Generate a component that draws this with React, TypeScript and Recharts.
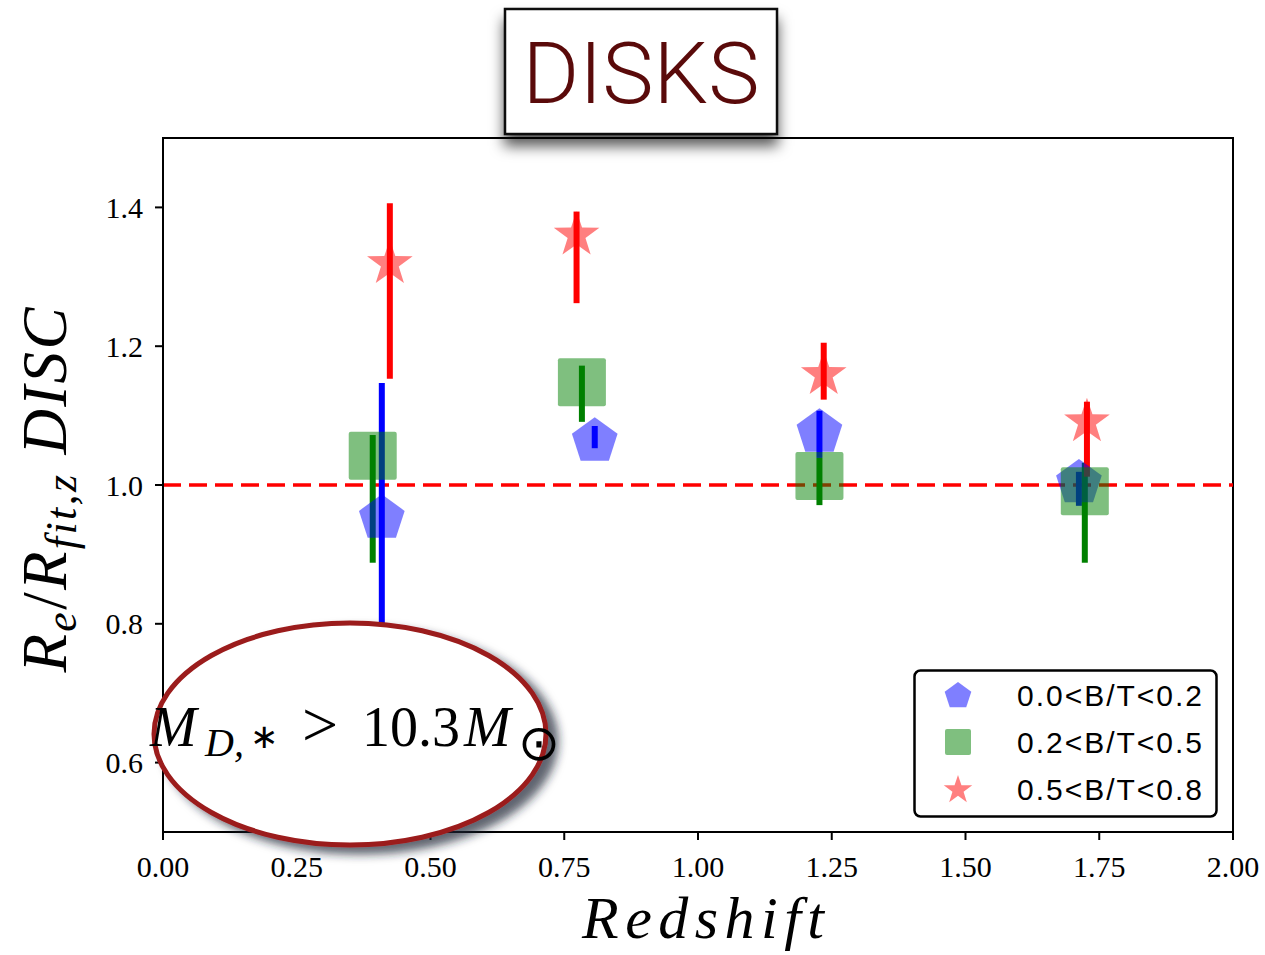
import React from 'react';
import {
  ScatterChart,
  Scatter,
  XAxis,
  YAxis,
  ErrorBar,
  ReferenceLine,
  ReferenceArea,
  Legend,
} from 'recharts';

// redshift bins and R_e / R_fit ratios
const blueZ = [0.409, 0.807, 1.227, 1.712];
const blueR = [0.952, 1.063, 1.076, 1.003];
const blueLo = [0.801, 1.053, 1.039, 0.97];
const blueHi = [1.147, 1.085, 1.107, 1.019];

const greenZ = [0.392, 0.783, 1.227, 1.723];
const greenR = [1.042, 1.148, 1.013, 0.991];
const greenLo = [0.888, 1.091, 0.971, 0.888];
const greenHi = [1.072, 1.172, 1.039, 1.032];

const redZ = [0.424, 0.773, 1.235, 1.727];
const redR = [1.319, 1.36, 1.159, 1.091];
const redLo = [1.153, 1.262, 1.123, 1.012];
const redHi = [1.406, 1.394, 1.205, 1.12];

const xTicks = [0, 0.25, 0.5, 0.75, 1.0, 1.25, 1.5, 1.75, 2.0];
const yTicks = [0.6, 0.8, 1.0, 1.2, 1.4];

const legendLabels = ['0.0<B/T<0.2', '0.2<B/T<0.5', '0.5<B/T<0.8'];

const build = (z: number[], r: number[], lo: number[], hi: number[]) =>
  z.map((x, i) => ({ x, y: r[i], err: [r[i] - lo[i], hi[i] - r[i]] }));

const blueData = build(blueZ, blueR, blueLo, blueHi);
const greenData = build(greenZ, greenR, greenLo, greenHi);
const redData = build(redZ, redR, redLo, redHi);

const serif = '"Liberation Serif", "Times New Roman", serif';
const sans = '"Liberation Sans", Arial, sans-serif';

const pentagonPoints = (cx: number, cy: number, r: number) =>
  [0, 1, 2, 3, 4]
    .map(k => {
      const a = ((-90 + k * 72) * Math.PI) / 180;
      return `${cx + r * Math.cos(a)},${cy + r * Math.sin(a)}`;
    })
    .join(' ');

const starPoints = (cx: number, cy: number, r: number) =>
  Array.from({ length: 10 }, (_, k) => {
    const a = ((-90 + k * 36) * Math.PI) / 180;
    const rr = k % 2 === 0 ? r : r * 0.39;
    return `${cx + rr * Math.cos(a)},${cy + rr * Math.sin(a)}`;
  }).join(' ');

const Pentagon = ({ cx, cy, r = 24 }: any) => (
  <polygon points={pentagonPoints(cx, cy, r)} fill="#0000ff" fillOpacity={0.5} />
);

const Square = ({ cx, cy, s = 48 }: any) => (
  <rect x={cx - s / 2} y={cy - s / 2} width={s} height={s} rx={2} fill="#008000" fillOpacity={0.5} />
);

const Star = ({ cx, cy, r = 24 }: any) => (
  <polygon points={starPoints(cx, cy, r)} fill="#ff0000" fillOpacity={0.5} strokeLinejoin="round" />
);

const Nothing = () => <g />;

const renderLegend = () => {
  const markers = [
    <Pentagon cx={45} cy={27} r={14} />,
    <Square cx={45} cy={73} s={26} />,
    <Star cx={45} cy={121} r={15} />,
  ];
  return (
    <svg width={305} height={149} style={{ display: 'block' }}>
      <rect x={1.5} y={1.5} width={302} height={146} rx={6} fill="#fff" stroke="#000" strokeWidth={2.5} />
      {legendLabels.map((lab, i) => (
        <g key={lab}>
          {markers[i]}
          <text
            x={104}
            y={37 + i * 47}
            fontFamily={sans}
            fontSize={30}
            fill="#000"
            textLength={185}
            lengthAdjust="spacing"
          >
            {lab}
          </text>
        </g>
      ))}
    </svg>
  );
};

const App: React.FC = () => {
  return (
    <div style={{ position: 'absolute', left: 0, top: 0, width: 1265, height: 955, background: '#fff' }}>
      <ScatterChart width={1265} height={955} margin={{ top: 138, right: 32, bottom: 63, left: 63 }}>
        <XAxis
          type="number"
          dataKey="x"
          domain={[0, 2]}
          ticks={xTicks}
          tickFormatter={(v: number) => v.toFixed(2)}
          allowDataOverflow
          height={60}
          tickSize={8}
          tickMargin={16}
          axisLine={{ stroke: '#000', strokeWidth: 2 }}
          tickLine={{ stroke: '#000', strokeWidth: 2 }}
          tick={{ fill: '#000', fontSize: 30, fontFamily: serif }}
        />
        <YAxis
          type="number"
          dataKey="y"
          domain={[0.5, 1.5]}
          ticks={yTicks}
          tickFormatter={(v: number) => v.toFixed(1)}
          allowDataOverflow
          width={100}
          tickSize={8}
          tickMargin={12}
          axisLine={{ stroke: '#000', strokeWidth: 2 }}
          tickLine={{ stroke: '#000', strokeWidth: 2 }}
          tick={{ fill: '#000', fontSize: 30, fontFamily: serif }}
        />
        <ReferenceArea x1={0} x2={2} y1={0.5} y2={1.5} fill="none" fillOpacity={0} stroke="#000" strokeWidth={2} />

        <Scatter name={legendLabels[0]} data={blueData} shape={Pentagon} isAnimationActive={false} />
        <Scatter name={legendLabels[1]} data={greenData} shape={Square} isAnimationActive={false} />
        <Scatter name={legendLabels[2]} data={redData} shape={Star} isAnimationActive={false} />

        <ReferenceLine y={1} stroke="#ff0000" strokeWidth={3.5} strokeDasharray="18 8" />

        <Scatter data={blueData} shape={Nothing} isAnimationActive={false} legendType="none">
          <ErrorBar dataKey="err" direction="y" width={0} stroke="#0000ff" strokeWidth={6} isAnimationActive={false} />
        </Scatter>
        <Scatter data={greenData} shape={Nothing} isAnimationActive={false} legendType="none">
          <ErrorBar dataKey="err" direction="y" width={0} stroke="#008000" strokeWidth={6} isAnimationActive={false} />
        </Scatter>
        <Scatter data={redData} shape={Nothing} isAnimationActive={false} legendType="none">
          <ErrorBar dataKey="err" direction="y" width={0} stroke="#ff0000" strokeWidth={6} isAnimationActive={false} />
        </Scatter>

        <Legend
          layout="vertical"
          align="center"
          verticalAlign="middle"
          content={renderLegend}
          wrapperStyle={{ left: 913, top: 669, width: 305, height: 149 }}
        />
      </ScatterChart>

      <svg
        width={1265}
        height={955}
        style={{ position: 'absolute', left: 0, top: 0, pointerEvents: 'none' }}
      >
        <defs>
          <filter id="titleShadow" x="-20%" y="-20%" width="140%" height="160%">
            <feDropShadow dx={0} dy={11} stdDeviation={7} floodColor="#000" floodOpacity={0.65} />
          </filter>
          <filter id="ellShadow" x="-20%" y="-20%" width="140%" height="140%">
            <feDropShadow dx={10} dy={7} stdDeviation={5} floodColor="#1a2230" floodOpacity={0.7} />
          </filter>
        </defs>

        {/* title box */}
        <rect x={505} y={9} width={272} height={125} fill="#fff" stroke="#111" strokeWidth={2.5} filter="url(#titleShadow)" />
        <text
          x={641}
          y={103}
          textAnchor="middle"
          fontFamily="Roboto, sans-serif"
          fontWeight={300}
          fontSize={85}
          fill="#5a0a0a"
          textLength={237}
          lengthAdjust="spacingAndGlyphs"
        >
          DISKS
        </text>

        {/* mass cut annotation */}
        <ellipse cx={350} cy={734} rx={196} ry={111} fill="#fff" stroke="#9b1b1b" strokeWidth={5} filter="url(#ellShadow)" />
        <text y={746} fontFamily={serif} fontSize={56} fill="#000">
          <tspan x={150} fontStyle="italic">M</tspan>
          <tspan x={205} y={756} fontSize={40} fontStyle="italic">D,</tspan>
          <tspan x={250} y={748} fontSize={34}>∗</tspan>
          <tspan x={302} y={746} fontSize={64}>&gt;</tspan>
          <tspan x={362} fontSize={56}>10.3</tspan>
          <tspan x={464} fontStyle="italic">M</tspan>
          <tspan x={518} y={760} fontSize={50}>⊙</tspan>
        </text>

        {/* axis labels */}
        <text
          x={703}
          y={938}
          textAnchor="middle"
          fontFamily={serif}
          fontStyle="italic"
          fontSize={60}
          fill="#000"
          textLength={242}
          lengthAdjust="spacing"
        >
          Redshift
        </text>
        <text
          x={66}
          y={490}
          textAnchor="middle"
          transform="rotate(-90, 66, 490)"
          fontFamily={serif}
          fontStyle="italic"
          fontSize={63}
          fill="#000"
          textLength={365}
          lengthAdjust="spacing"
        >
          R<tspan fontSize={44} dy={10}>e</tspan>
          <tspan dy={-10} fontStyle="normal">/</tspan>R
          <tspan fontSize={44} dy={10}>fit,z</tspan>
          <tspan dy={-10}>{'\u00a0'}DISC</tspan>
        </text>
      </svg>
    </div>
  );
};

export default App;
